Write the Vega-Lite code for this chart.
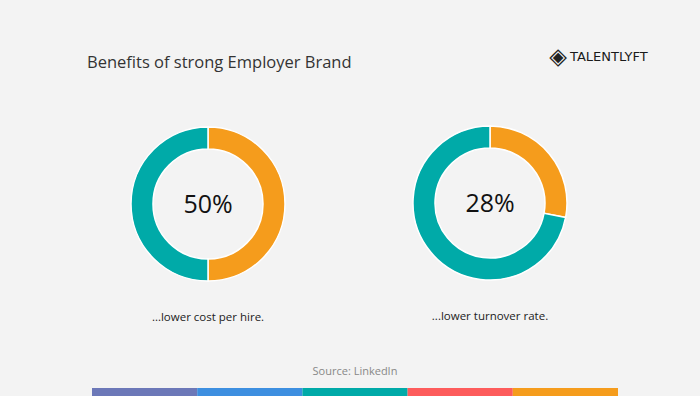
{
  "$schema": "https://vega.github.io/schema/vega-lite/v6.json",
  "width": 700,
  "height": 396,
  "autosize": "none",
  "padding": 0,
  "background": "#f3f3f3",
  "config": {"view": {"stroke": null}, "font": "Segoe UI, Open Sans"},
  "title": {
    "text": "Benefits of strong Employer Brand",
    "anchor": "start",
    "orient": "top",
    "frame": "group",
    "offset": -84,
    "baseline": "alphabetic",
    "dx": 87,
    "fontSize": 16.5,
    "fontWeight": "normal",
    "color": "#333333",
    "font": "Segoe UI, Open Sans"
  },
  "layer": [
    {
      "data": {"values": [
        {"chart": "cost", "part": "share", "value": 50},
        {"chart": "cost", "part": "other", "value": 50},
        {"chart": "turnover", "part": "share", "value": 28},
        {"chart": "turnover", "part": "other", "value": 72}
      ]},
      "transform": [
        {"stack": "value", "groupby": ["chart"], "sort": [{"field": "part", "order": "descending"}], "as": ["v0", "v1"]}
      ],
      "mark": {"type": "arc", "innerRadius": 55, "outerRadius": 77, "stroke": "#ffffff", "strokeWidth": 1.5},
      "encoding": {
        "theta": {"field": "v0", "type": "quantitative", "scale": {"domain": [0, 100]}},
        "theta2": {"field": "v1"},
        "color": {"field": "part", "type": "nominal", "scale": {"domain": ["share", "other"], "range": ["#f59c1c", "#00aaa8"]}, "legend": null},
        "x": {"field": "chart", "type": "nominal", "scale": {"type": "point", "domain": ["cost", "turnover"], "range": [208, 490], "padding": 0}, "axis": null},
        "y": {"field": "chart", "type": "nominal", "scale": {"type": "point", "domain": ["cost", "turnover"], "range": [204, 203], "padding": 0}, "axis": null}
      }
    },
    {
      "data": {"values": [
        {"chart": "cost", "pct": "50%", "label": "...lower cost per hire."},
        {"chart": "turnover", "pct": "28%", "label": "...lower turnover rate."}
      ]},
      "layer": [
        {
          "mark": {"type": "text", "fontSize": 25, "color": "#111111", "baseline": "middle", "align": "center", "dy": 1},
          "encoding": {
            "text": {"field": "pct"},
            "x": {"field": "chart", "type": "nominal", "scale": {"type": "point", "domain": ["cost", "turnover"], "range": [208, 490], "padding": 0}, "axis": null},
            "y": {"field": "chart", "type": "nominal", "scale": {"type": "point", "domain": ["cost", "turnover"], "range": [204, 203], "padding": 0}, "axis": null}
          }
        },
        {
          "mark": {"type": "text", "fontSize": 11.5, "color": "#222222", "baseline": "middle", "align": "center", "dy": 114},
          "encoding": {
            "text": {"field": "label"},
            "x": {"field": "chart", "type": "nominal", "scale": {"type": "point", "domain": ["cost", "turnover"], "range": [208, 490], "padding": 0}, "axis": null},
            "y": {"field": "chart", "type": "nominal", "scale": {"type": "point", "domain": ["cost", "turnover"], "range": [204, 203], "padding": 0}, "axis": null}
          }
        }
      ]
    },
    {
      "data": {"values": [{"brand": "TALENTLYFT", "icon": "◈", "source": "Source: LinkedIn"}]},
      "layer": [
        {
          "mark": {"type": "text", "x": 558, "y": 57, "align": "center", "baseline": "middle", "fontSize": 23, "font": "DejaVu Sans", "color": "#222222"},
          "encoding": {"text": {"field": "icon"}}
        },
        {
          "mark": {"type": "text", "x": 570, "y": 57, "align": "left", "baseline": "middle", "fontSize": 13, "font": "DejaVu Sans", "color": "#1a1a1a"},
          "encoding": {"text": {"field": "brand"}}
        },
        {
          "mark": {"type": "text", "x": 355, "y": 372, "align": "center", "baseline": "middle", "fontSize": 11, "color": "#888888"},
          "encoding": {"text": {"field": "source"}}
        }
      ]
    },
    {
      "data": {"values": [
        {"segment": "a", "span": 1},
        {"segment": "b", "span": 1},
        {"segment": "c", "span": 1},
        {"segment": "d", "span": 1},
        {"segment": "e", "span": 1}
      ]},
      "mark": {"type": "bar", "y": 388, "y2": 396},
      "encoding": {
        "x": {"field": "segment", "type": "nominal", "scale": {"type": "band", "domain": ["a", "b", "c", "d", "e"], "range": [92, 618], "paddingInner": 0, "paddingOuter": 0}, "axis": null},
        "color": {"field": "segment", "type": "nominal", "scale": {"domain": ["a", "b", "c", "d", "e"], "range": ["#6c78b8", "#3d8fe0", "#00aaa8", "#fd5c5c", "#f59c1c"]}, "legend": null}
      }
    }
  ],
  "resolve": {"scale": {"x": "independent", "y": "independent", "color": "independent", "theta": "independent"}}
}
